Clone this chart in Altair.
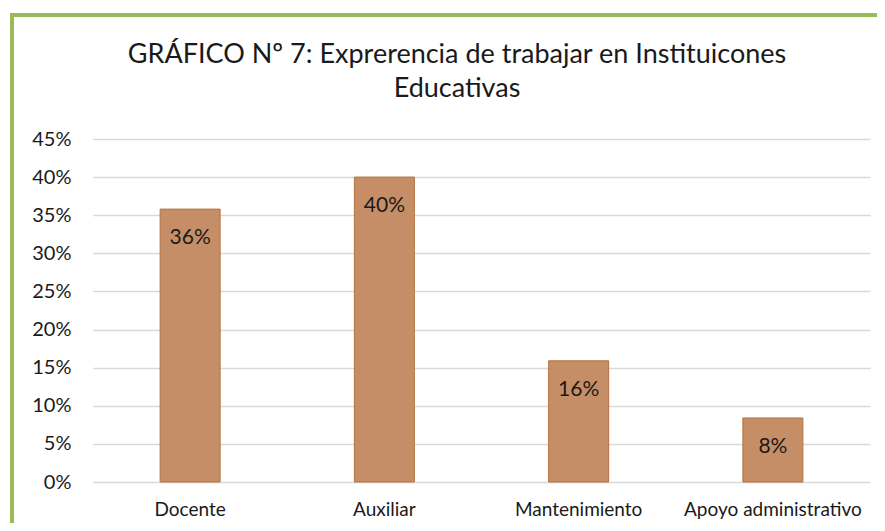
import altair as alt
import pandas as pd

categories = ["Docente", "Auxiliar", "Mantenimiento", "Apoyo administrativo"]
values = [0.358, 0.40, 0.159, 0.084]
y_ticks = [0, 0.05, 0.10, 0.15, 0.20, 0.25, 0.30, 0.35, 0.40, 0.45]
title_line1 = "GRÁFICO Nº 7: Exprerencia de trabajar en Instituicones"
title_line2 = "Educativas"

df = pd.DataFrame({"cat": categories, "val": values})

FONT = "Lato"
TEXT = "#1a1a1a"

x_enc = alt.X("cat:N", sort=categories, title=None,
              scale=alt.Scale(paddingInner=0, paddingOuter=0),
              axis=alt.Axis(labelAngle=0, ticks=False, domain=False, grid=False,
                            labelPadding=18, labelFontSize=19, labelFont=FONT,
                            labelColor=TEXT))
y_enc = alt.Y("val:Q", title=None,
              scale=alt.Scale(domain=[0, 0.45], nice=False),
              axis=alt.Axis(values=y_ticks, format=".0%", ticks=False, domain=False,
                            labelOverlap=False, labelPadding=22, labelFontSize=20,
                            labelFont=FONT, labelColor=TEXT,
                            gridColor="#D9D9D9", gridWidth=1.5))

base = alt.Chart(df)

bars = base.mark_bar(size=60, color="#C68E66", stroke="#B5713F", strokeWidth=1).encode(
    x=x_enc, y=y_enc)

labels = base.mark_text(dy=29, baseline="middle", fontSize=21, font=FONT, color=TEXT).encode(
    x=x_enc, y=y_enc,
    text=alt.Text("val:Q", format=".0%"))

one = pd.DataFrame({"a": [0]})
frame_top = alt.Chart(one).mark_rule(color="#9BBB59", strokeWidth=4).encode(
    x=alt.value(-83), x2=alt.value(820), y=alt.value(-124))
frame_left = alt.Chart(one).mark_rule(color="#9BBB59", strokeWidth=4).encode(
    x=alt.value(-81), y=alt.value(-126), y2=alt.value(420))

t1 = alt.Chart(one).mark_text(fontSize=27, font=FONT, color=TEXT, align="center",
                              baseline="alphabetic").encode(
    x=alt.value(364), y=alt.value(-76), text=alt.value(title_line1))
t2 = alt.Chart(one).mark_text(fontSize=27, font=FONT, color=TEXT, align="center",
                              baseline="alphabetic").encode(
    x=alt.value(364), y=alt.value(-42), text=alt.value(title_line2))

chart = alt.layer(bars, labels, frame_top, frame_left, t1, t2).properties(
    width=777, height=343,
    autosize=alt.AutoSizeParams(type="none"),
    padding={"left": 85, "top": 131, "right": 7, "bottom": 41},
).configure(background="white").configure_view(stroke="transparent", strokeWidth=0)

chart.save("out.html", embed_options={"renderer": "svg", "actions": False})
